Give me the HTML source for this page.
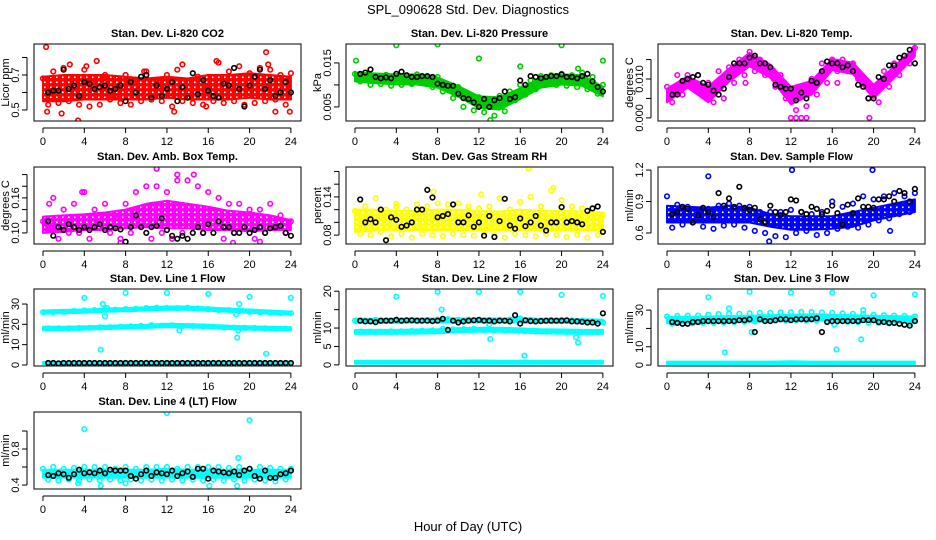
<!DOCTYPE html>
<html><head><meta charset="utf-8"><style>
body{margin:0;background:#fff;}
svg{display:block;font-family:"Liberation Sans",sans-serif;}
</style></head><body>
<svg id="chart" width="936" height="540" viewBox="0 0 936 540">
<text x="468" y="14" text-anchor="middle" font-size="13">SPL_090628  Std. Dev. Diagnostics</text>
<text x="468" y="531" text-anchor="middle" font-size="13">Hour of Day (UTC)</text>
</svg>
<script>
// ---- data: per-panel arrays (band lo/hi every 2h, scatter A hourly, B at h+0.5, outliers, black every 0.5h) ----
const p1Lo=[0.55,0.55,0.56,0.56,0.56,0.56,0.57,0.56,0.56,0.56,0.57,0.56,0.56];
const p1Hi=[0.69,0.70,0.70,0.70,0.69,0.68,0.69,0.68,0.70,0.70,0.71,0.70,0.69];
const p1A=[0.68,0.72,0.74,0.66,0.73,0.65,0.70,0.58,0.70,0.67,0.72,0.65,0.70,0.73,0.66,0.69,0.64,0.77,0.72,0.75,0.71,0.74,0.73,0.70,0.71];
const p1B=[0.53,0.54,0.55,0.53,0.52,0.53,0.56,0.54,0.53,0.55,0.56,0.55,0.52,0.55,0.54,0.53,0.55,0.54,0.55,0.53,0.54,0.55,0.56,0.53];
const p1OutH=[0.3,3.4,21.6,0.4,1.8,22.5,23.9,4.2,2.6,5.2,16.8,21.8,12.7,9.8,13.5,15.8];
const p1OutV=[0.86,0.44,0.83,0.49,0.48,0.49,0.49,0.75,0.76,0.78,0.78,0.76,0.49,0.72,0.76,0.52];
const p1K=[0.6,0.61,0.61,0.73,0.62,0.64,0.58,0.66,0.65,0.62,0.63,0.64,0.61,0.62,0.64,0.55,0.66,0.6,0.69,0.7,0.57,0.64,0.58,0.62,0.66,0.55,0.63,0.57,0.71,0.59,0.67,0.61,0.58,0.57,0.65,0.64,0.74,0.62,0.52,0.64,0.69,0.73,0.62,0.67,0.58,0.6,0.66,0.6];

const p2Lo=[0.0108,0.0104,0.0101,0.0101,0.0094,0.0073,0.0048,0.0044,0.0068,0.0094,0.0101,0.0098,0.0074];
const p2Hi=[0.0128,0.0126,0.0124,0.0124,0.0117,0.0097,0.0074,0.0072,0.0092,0.0116,0.0124,0.0122,0.0096];
const p2A=[0.0125,0.0122,0.0120,0.0123,0.0120,0.0118,0.0124,0.0116,0.0118,0.0100,0.0095,0.0080,0.0072,0.0060,0.0075,0.0085,0.0100,0.0110,0.0120,0.0122,0.0125,0.0122,0.0128,0.0118,0.0100];
const p2B=[0.0108,0.0100,0.0102,0.0098,0.0100,0.0102,0.0105,0.0095,0.0085,0.0070,0.0050,0.0042,0.0038,0.0030,0.0040,0.0065,0.0078,0.0090,0.0100,0.0100,0.0098,0.0095,0.0090,0.0080];
const p2OutH=[0.1,4.0,8.0,12.0,20.0,24.0,16.0,21.6,13.1];
const p2OutV=[0.0155,0.0190,0.0192,0.0160,0.0190,0.0155,0.0142,0.0137,0.0020];
const p2K=[0.0125,0.0128,0.0135,0.0118,0.0115,0.0117,0.0115,0.0125,0.0130,0.0122,0.0118,0.0118,0.0120,0.0120,0.0118,0.0103,0.0100,0.0098,0.0098,0.0080,0.0070,0.0068,0.0060,0.0050,0.0068,0.0050,0.0065,0.0070,0.0085,0.0068,0.0072,0.0110,0.0100,0.0120,0.0118,0.0115,0.0118,0.0120,0.0120,0.0124,0.0118,0.0118,0.0115,0.0120,0.0125,0.0108,0.0095,0.0085];

const p3Lo=[0.0040,0.0078,0.0040,0.0093,0.0133,0.0103,0.0035,0.0060,0.0123,0.0113,0.0050,0.0103,0.0158];
const p3Hi=[0.0075,0.0107,0.0080,0.0127,0.0167,0.0137,0.0080,0.0095,0.0152,0.0142,0.0085,0.0132,0.0182];
const p3A=[0.008,0.011,0.011,0.011,0.009,0.012,0.013,0.015,0.017,0.015,0.013,0.011,0.007,0.008,0.010,0.014,0.015,0.015,0.014,0.010,0.008,0.012,0.014,0.016,0.018];
const p3B=[0.004,0.006,0.008,0.008,0.004,0.005,0.009,0.011,0.012,0.011,0.008,0.005,0.002,0.003,0.006,0.009,0.012,0.012,0.010,0.005,0.004,0.008,0.011,0.014];
const p3OutH=[12.0,12.5,13.0,13.5,19.6,7.6,16.5];
const p3OutV=[0.0,0.0,0.0,0.0,0.0,0.009,0.009];
const p3K=[0.006,0.006,0.0095,0.010,0.0105,0.011,0.009,0.0085,0.007,0.006,0.0075,0.0105,0.014,0.014,0.014,0.0155,0.016,0.014,0.014,0.013,0.0085,0.008,0.0075,0.0075,0.0045,0.0065,0.005,0.0095,0.009,0.012,0.0145,0.014,0.014,0.013,0.0135,0.012,0.0085,0.008,0.005,0.005,0.0105,0.010,0.0135,0.0135,0.0155,0.0160,0.0175,0.0140];

const p4Lo=[0.100,0.102,0.105,0.105,0.108,0.110,0.108,0.108,0.105,0.105,0.103,0.105,0.105];
const p4Hi=[0.128,0.130,0.132,0.135,0.140,0.150,0.155,0.150,0.145,0.138,0.135,0.130,0.122];
const p4A=[0.12,0.16,0.14,0.15,0.17,0.14,0.15,0.13,0.15,0.17,0.18,0.18,0.17,0.19,0.19,0.18,0.17,0.16,0.15,0.15,0.14,0.14,0.15,0.13,0.12];
const p4B=[0.11,0.09,0.10,0.10,0.09,0.11,0.10,0.09,0.10,0.12,0.09,0.10,0.09,0.10,0.11,0.10,0.11,0.09,0.10,0.11,0.09,0.10,0.11,0.10];
const p4OutH=[0.6,3.8,11.0,13.0,7.5,18.4,14.6,0.4,21.0];
const p4OutV=[0.15,0.17,0.21,0.20,0.083,0.083,0.20,0.12,0.085];
const p4K=[0.12,0.095,0.11,0.105,0.115,0.11,0.105,0.11,0.105,0.11,0.115,0.105,0.11,0.108,0.106,0.085,0.11,0.13,0.11,0.10,0.11,0.112,0.125,0.105,0.095,0.09,0.095,0.09,0.10,0.11,0.10,0.115,0.10,0.12,0.11,0.11,0.10,0.10,0.11,0.10,0.105,0.11,0.10,0.108,0.11,0.112,0.10,0.095];

const p5Lo=[0.085,0.087,0.087,0.088,0.087,0.088,0.087,0.087,0.088,0.087,0.087,0.088,0.087];
const p5Hi=[0.120,0.120,0.118,0.118,0.120,0.120,0.118,0.117,0.120,0.118,0.118,0.117,0.115];
const p5A=[0.118,0.125,0.138,0.120,0.125,0.120,0.128,0.125,0.130,0.128,0.130,0.125,0.122,0.125,0.138,0.120,0.132,0.140,0.125,0.150,0.135,0.125,0.122,0.120,0.112];
const p5B=[0.082,0.080,0.085,0.078,0.082,0.076,0.082,0.080,0.078,0.082,0.080,0.079,0.082,0.080,0.076,0.082,0.080,0.078,0.082,0.080,0.077,0.081,0.076,0.080];
const p5OutH=[16.8,7.6,12.2,19.2,4.0];
const p5OutV=[0.185,0.148,0.144,0.154,0.129];
const p5K=[0.136,0.1,0.105,0.1,0.12,0.072,0.108,0.104,0.093,0.095,0.1,0.12,0.12,0.151,0.139,0.108,0.11,0.113,0.128,0.1,0.1,0.111,0.093,0.1,0.079,0.11,0.077,0.102,0.137,0.095,0.09,0.106,0.094,0.1,0.11,0.095,0.087,0.1,0.1,0.124,0.1,0.102,0.1,0.097,0.118,0.122,0.125,0.085];

const p6Lo=[0.70,0.70,0.70,0.70,0.70,0.66,0.63,0.63,0.64,0.66,0.72,0.76,0.80];
const p6Hi=[0.86,0.85,0.84,0.86,0.84,0.78,0.76,0.76,0.76,0.80,0.84,0.88,0.92];
const p6A=[0.95,0.87,0.85,0.82,0.83,0.86,0.88,0.86,0.85,0.80,0.80,0.80,0.82,0.80,0.78,0.80,0.90,0.85,0.88,0.95,0.92,0.95,0.98,0.95,0.98];
const p6B=[0.65,0.68,0.70,0.66,0.64,0.67,0.68,0.65,0.62,0.60,0.57,0.56,0.60,0.62,0.58,0.60,0.64,0.66,0.65,0.68,0.72,0.74,0.78,0.80];
const p6OutH=[4.0,12.1,19.9,21.6,9.9];
const p6OutV=[1.14,1.20,1.20,0.62,0.52];
const p6K=[0.78,0.8,0.85,0.83,0.7,0.77,0.84,0.8,0.75,0.98,0.86,0.93,0.85,1.04,0.84,0.82,0.84,0.73,0.7,0.86,0.8,0.77,0.8,0.92,0.91,0.8,0.78,0.85,0.83,0.78,0.81,0.86,0.79,0.68,0.87,0.79,0.93,0.85,0.85,0.84,0.92,0.92,0.95,0.9,1.0,0.98,0.9,1.02];

const p7Lo=[25.2,25.5,25.7,26.2,26.4,26.8,27.2,27.2,26.7,26.2,25.7,25.2,24.7];
const p7Hi=[26.8,27.1,27.3,27.8,28.0,28.4,28.8,28.8,28.3,27.8,27.3,26.8,26.3];
const p7Lo2=[17.2,17.2,17.4,17.7,18,18.2,18.7,18.5,18.2,17.7,17.4,17.2,17];
const p7Hi2=[18.8,18.8,19,19.3,19.6,19.8,20.3,20.1,19.8,19.3,19,18.8,18.6];
const p7Lo3=[0.5,0.5,0.5,0.5,0.5,0.5,0.5,0.5,0.5,0.5,0.5,0.5,0.5];
const p7Hi3=[1.5,1.5,1.5,1.5,1.5,1.5,1.6,1.5,1.5,1.5,1.5,1.5,1.5];
const p7A=[26,26,26.2,26.5,26.8,27,27.3,27.2,27.5,27.6,28,28.2,28.1,28,28.2,27.8,27.5,27,27,26.6,26.2,26,25.7,25.6,25.5];
const p7B=[18,18,18,18.2,18.3,18.5,18.6,18.8,19,19.2,19.6,19.4,19.5,19.2,19.2,19,18.8,18.5,18.4,18.3,18.2,18,17.8,17.8];
const p7OutH=[4.0,8.0,12.0,16.0,20.0,24.0,5.6,5.8,6.0,18.8,21.6,18.7,19.0,18.9,6.2,13.2];
const p7OutV=[33,35.5,35.5,35,33.5,33,7.5,30,24,13.5,5.5,25,30,17,28,17];
const p7K=[1,1,0.8,1,1,1,1,1,1,1,1,1,1,1,1,1,1,1,1,1,1,1,1,1,1,1,1,1,1,1,1,1,1,1,1,1,1,1,1,1,1,1,1,1,1,1,1,1];

const p8Lo=[11.4,11.4,11.4,11.5,11.5,11.5,11.5,11.5,11.5,11.4,11.4,11.3,11.2];
const p8Hi=[12.5,12.5,12.5,12.6,12.6,12.6,12.6,12.6,12.6,12.5,12.5,12.4,12.3];
const p8Lo2=[8.4,8.4,8.4,8.5,8.6,8.9,9.0,9.0,8.8,8.6,8.5,8.4,8.4];
const p8Hi2=[9.5,9.5,9.5,9.6,9.7,10.0,10.1,10.1,9.9,9.7,9.6,9.5,9.5];
const p8Lo3=[0.3,0.3,0.3,0.3,0.3,0.3,0.3,0.3,0.3,0.3,0.3,0.3,0.3];
const p8Hi3=[1.1,1.1,1.1,1.1,1.1,1.1,1.2,1.1,1.1,1.1,1.1,1.1,1.1];
const p8A=[12,12,12.2,12.1,12.2,12,12.1,12.2,12.3,12.4,12.2,12.3,12.2,12.2,12.2,12.3,12.6,12.2,12.1,12.2,12.2,12.1,12,11.8,11.5];
const p8B=[9,9,9,9.1,9.1,9.2,9.3,9.4,9.8,9.6,9.7,9.8,9.5,9.4,9.4,9.3,9.2,9.1,9.1,9,9,8.9,8.9,8.9];
const p8OutH=[4,8,12,16,20,24,8.4,13.1,16.4,21.6,21.4,13.0];
const p8OutV=[18.5,19.8,19.8,19.8,19,18.7,15,7,2.5,6,7.5,11];
const p8K=[12,11.8,11.8,11.6,12,12,12,12.2,12,12.1,12.1,12,12,12,11.9,12,12.5,9.5,12,11.5,11.8,12,12.1,12.2,12,12,11.8,12,12,11.8,13.5,11.2,12.1,11.9,11.8,11.9,12,12,12,12,12.1,11.8,11.8,11.7,11.5,11.5,11.2,14];

const p9Lo=[22.8,22.9,23.1,23.3,23.6,23.8,24.1,24.3,24.1,23.8,23.5,23.3,23.1];
const p9Hi=[26.2,26.3,26.5,26.7,27.0,27.2,27.5,27.7,27.5,27.2,26.9,26.7,26.5];
const p9Lo2=[0.6,0.6,0.6,0.6,0.6,0.6,0.6,0.6,0.6,0.6,0.6,0.6,0.6];
const p9Hi2=[1.9,1.9,1.9,1.9,1.9,1.9,2.1,1.9,1.9,1.9,1.9,1.9,1.9];
const p9A=[26.5,26.8,27,27,27.5,27.8,28,28,28.3,28.5,28.5,28.8,28.8,29,29,28.8,28.5,28.2,28,27.8,27.5,27.2,27,26.8,26.5];
const p9B=[22.5,22.5,22.8,23,23,23.2,23.5,23.6,23.8,24,24.2,24.2,24.5,24.4,24.2,24,23.8,23.6,23.4,23.2,23,22.8,22.6,22.5];
const p9OutH=[4,8,12,16,20,24,5.6,6.0,16.4,18.8,8.2,16.2,19.0];
const p9OutV=[37,40,39.5,39.5,38,38.5,7,31,8.5,14,18,22,30];
const p9K=[23.5,23,22.5,22.5,23.5,23.5,24,24,24,24,24,24,24,24.5,24.5,25,18,25,24,24,24.5,25,25,24.5,25,25,25,25,25.5,18,23.5,24,24,24,24,24,24,24.5,24.5,24.5,23.5,23.5,23,23,22.5,22,21.5,24];

const p10Lo=[0.48,0.48,0.48,0.48,0.48,0.48,0.48,0.48,0.48,0.48,0.48,0.48,0.48];
const p10Hi=[0.57,0.57,0.57,0.57,0.57,0.57,0.58,0.57,0.57,0.57,0.57,0.57,0.57];
const p10A=[0.58,0.6,0.58,0.59,0.6,0.6,0.6,0.58,0.6,0.58,0.6,0.6,0.6,0.58,0.6,0.6,0.6,0.6,0.59,0.6,0.58,0.6,0.59,0.58,0.58];
const p10B=[0.46,0.45,0.46,0.45,0.46,0.45,0.46,0.45,0.46,0.45,0.46,0.45,0.46,0.45,0.46,0.45,0.46,0.45,0.46,0.45,0.46,0.45,0.44,0.46];
const p10OutH=[4,12,20,18.9,5.6,18.8,16.1,8,3.4];
const p10OutV=[1.02,1.2,1.12,0.7,0.39,0.39,0.39,0.42,0.42];
const p10K=[0.51,0.5,0.53,0.52,0.48,0.52,0.57,0.53,0.54,0.53,0.56,0.53,0.57,0.56,0.56,0.56,0.5,0.47,0.52,0.56,0.5,0.54,0.53,0.52,0.56,0.5,0.53,0.55,0.49,0.58,0.58,0.47,0.56,0.55,0.54,0.53,0.55,0.51,0.56,0.58,0.5,0.47,0.56,0.48,0.48,0.52,0.53,0.56];

const xTicks=[0,4,8,12,16,20,24];

// ---- layout ----
const colL=[34,346,658], rowT=[44,167,289,412], BW=267, BH=77, XMIN=-0.87, XMAX=24.98;
const panels=[
 {t:"Stan. Dev. Li-820 CO2",yl:"Licor ppm",c:0,r:0,ymin:0.437,ymax:0.877,ticks:[0.5,0.6,0.7,0.8],lab:["0.5","","0.7",""],col:"#ff0000",tex:true,bands:[[p1Lo,p1Hi]],A:p1A,B:p1B,oh:p1OutH,ov:p1OutV,K:p1K},
 {t:"Stan. Dev. Li-820 Pressure",yl:"kPa",c:1,r:0,ymin:0.0018,ymax:0.0193,ticks:[0.005,0.01,0.015],lab:["0.005","","0.015"],col:"#00cd00",tex:false,bands:[[p2Lo,p2Hi]],A:p2A,B:p2B,oh:p2OutH,ov:p2OutV,K:p2K},
 {t:"Stan. Dev. Li-820 Temp.",yl:"degrees C",c:2,r:0,ymin:-0.0008,ymax:0.019,ticks:[0,0.005,0.01,0.015],lab:["0.000","","0.010",""],col:"#ff00ff",tex:false,bands:[[p3Lo,p3Hi]],A:p3A,B:p3B,oh:p3OutH,ov:p3OutV,K:p3K},
 {t:"Stan. Dev. Amb. Box Temp.",yl:"degrees C",c:0,r:1,ymin:0.081,ymax:0.213,ticks:[0.1,0.12,0.14,0.16,0.18,0.2],lab:["0.10","","","0.16","",""],col:"#ff00ff",tex:true,bands:[[p4Lo,p4Hi]],A:p4A,B:p4B,oh:p4OutH,ov:p4OutV,K:p4K},
 {t:"Stan. Dev. Gas Stream RH",yl:"percent",c:1,r:1,ymin:0.066,ymax:0.187,ticks:[0.08,0.1,0.12,0.14,0.16,0.18],lab:["0.08","","","0.14","",""],col:"#ffff00",tex:true,bands:[[p5Lo,p5Hi]],A:p5A,B:p5B,oh:p5OutH,ov:p5OutV,K:p5K},
 {t:"Stan. Dev. Sample Flow",yl:"ml/min",c:2,r:1,ymin:0.495,ymax:1.229,ticks:[0.6,0.9,1.2],lab:["0.6","0.9","1.2"],col:"#0000ff",tex:true,bands:[[p6Lo,p6Hi]],A:p6A,B:p6B,oh:p6OutH,ov:p6OutV,K:p6K},
 {t:"Stan. Dev. Line 1 Flow",yl:"ml/min",c:0,r:2,ymin:-0.5,ymax:37.4,ticks:[0,10,20,30],lab:["0","10","20","30"],col:"#00ffff",tex:false,bands:[[p7Lo,p7Hi],[p7Lo2,p7Hi2],[p7Lo3,p7Hi3]],A:p7A,B:p7B,oh:p7OutH,ov:p7OutV,K:p7K},
 {t:"Stan. Dev. Line 2 Flow",yl:"ml/min",c:1,r:2,ymin:-0.3,ymax:20.6,ticks:[0,5,10,15,20],lab:["0","5","10","","20"],col:"#00ffff",tex:false,bands:[[p8Lo,p8Hi],[p8Lo2,p8Hi2],[p8Lo3,p8Hi3]],A:p8A,B:p8B,oh:p8OutH,ov:p8OutV,K:p8K},
 {t:"Stan. Dev. Line 3 Flow",yl:"ml/min",c:2,r:2,ymin:-0.5,ymax:41.5,ticks:[0,10,20,30],lab:["0","10","","30"],col:"#00ffff",tex:false,bands:[[p9Lo,p9Hi],[p9Lo2,p9Hi2]],A:p9A,B:p9B,oh:p9OutH,ov:p9OutV,K:p9K},
 {t:"Stan. Dev. Line 4 (LT) Flow",yl:"ml/min",c:0,r:3,ymin:0.356,ymax:1.211,ticks:[0.4,0.6,0.8,1.0],lab:["0.4","","0.8",""],col:"#00ffff",tex:false,bands:[[p10Lo,p10Hi]],A:p10A,B:p10B,oh:p10OutH,ov:p10OutV,K:p10K}
];

const NS="http://www.w3.org/2000/svg";
const svg=document.getElementById('chart');
function mk(tag,attrs,parent){const e=document.createElementNS(NS,tag);for(const k in attrs)e.setAttribute(k,attrs[k]);(parent||svg).appendChild(e);return e;}
const defs=mk('defs',{});

panels.forEach((p,i)=>{
  const L=colL[p.c],T=rowT[p.r];
  const sx=h=>L+(h-XMIN)/(XMAX-XMIN)*BW;
  const sy=v=>T+BH-(v-p.ymin)/(p.ymax-p.ymin)*BH;
  let fill=p.col;
  if(p.tex){
    const pat=mk('pattern',{id:'pat'+i,width:6,height:5,patternUnits:'userSpaceOnUse'},defs);
    mk('rect',{x:0,y:0,width:6,height:5,fill:p.col},pat);
    mk('rect',{x:2,y:1.5,width:1.6,height:1.6,fill:'#fff'},pat);
    fill='url(#pat'+i+')';
  }
  const g=mk('g',{});
  
  
  const clipId='clip'+i;
  const cp=mk('clipPath',{id:clipId},g);mk('rect',{x:L,y:T,width:BW,height:BH},cp);
  const plot=mk('g',{'clip-path':'url(#'+clipId+')'},g);
  p.bands.forEach(([lo,hi])=>{
    let pts=[];
    lo.forEach((v,k)=>pts.push(sx(k*2).toFixed(1)+','+sy(v).toFixed(1)));
    for(let k=hi.length-1;k>=0;k--)pts.push(sx(k*2).toFixed(1)+','+sy(hi[k]).toFixed(1));
    const b=mk('polygon',{points:pts.join(' '),fill:fill,stroke:p.col,'stroke-width':2,'stroke-linejoin':'round'},plot);
    
    
  });
  const circ=(h,v,c)=>mk('circle',{cx:sx(h).toFixed(1),cy:sy(v).toFixed(1),r:2.3,fill:'none',stroke:c,'stroke-width':1.6},plot);
  p.A.forEach((v,k)=>{const e=circ(k,v,p.col);});
  p.B.forEach((v,k)=>{const e=circ(k+0.5,v,p.col);});
  p.oh.forEach((h,k)=>{const e=circ(h,p.ov[k],p.col);});
  p.K.forEach((v,k)=>{const e=circ((k+1)*0.5,v,'#000');});
  const box=mk('rect',{x:L,y:T,width:BW,height:BH,fill:'none',stroke:'#000','stroke-width':1},g);
  
  
  const x0=sx(xTicks[0]),x1=sx(xTicks[xTicks.length-1]);
  mk('line',{x1:x0,y1:T+BH+7,x2:x1,y2:T+BH+7,stroke:'#000'},g);
  xTicks.forEach(t=>{
    mk('line',{x1:sx(t),y1:T+BH+7,x2:sx(t),y2:T+BH+12,stroke:'#000'},g);
    const tx=mk('text',{x:sx(t),y:T+BH+24,'text-anchor':'middle','font-size':11},g);
    tx.textContent=t;
    
    
  });
  const ax=L-7;
  mk('line',{x1:ax,y1:sy(p.ticks[0]),x2:ax,y2:sy(p.ticks[p.ticks.length-1]),stroke:'#000'},g);
  p.ticks.forEach((t,k)=>{
    const y=sy(t);
    mk('line',{x1:ax-5,y1:y,x2:ax,y2:y,stroke:'#000'},g);
    if(p.lab[k]){
      const tx=mk('text',{x:0,y:0,transform:`translate(${ax-8},${y}) rotate(-90)`,'text-anchor':'middle','font-size':11},g);
      tx.textContent=p.lab[k];
      
      
    }
  });
  const yl=mk('text',{x:0,y:0,transform:`translate(${L-25},${T+BH/2}) rotate(-90)`,'text-anchor':'middle','font-size':11},g);
  yl.textContent=p.yl;
  
  
  const tt=mk('text',{x:L+BW/2,y:T-7,'text-anchor':'middle','font-size':11,'font-weight':'bold'},g);
  tt.textContent=p.t;
  
  
});
</script>
</body></html>
